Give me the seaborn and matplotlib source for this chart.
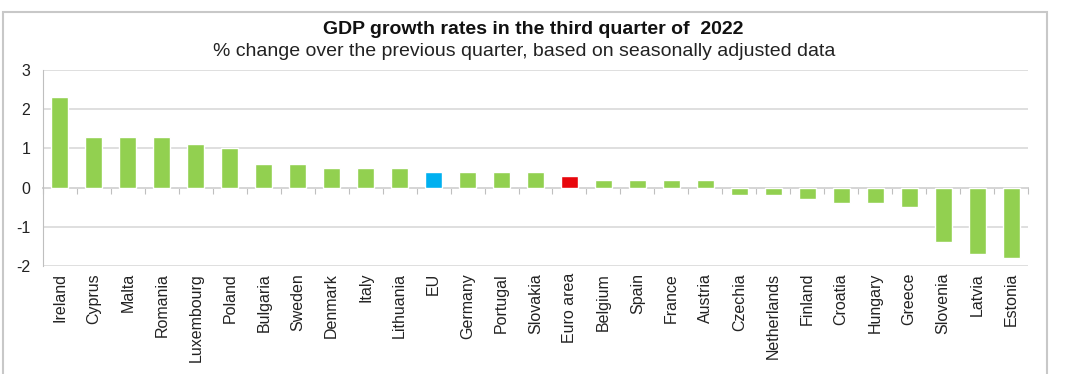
import matplotlib
matplotlib.use("Agg")
import matplotlib.pyplot as plt
from matplotlib.patches import Rectangle
import numpy as np
import seaborn as sns

countries = ["Ireland", "Cyprus", "Malta", "Romania", "Luxembourg", "Poland", "Bulgaria",
             "Sweden", "Denmark", "Italy", "Lithuania", "EU", "Germany", "Portugal",
             "Slovakia", "Euro area", "Belgium", "Spain", "France", "Austria", "Czechia",
             "Netherlands", "Finland", "Croatia", "Hungary", "Greece", "Slovenia",
             "Latvia", "Estonia"]
growth = [2.3, 1.3, 1.3, 1.3, 1.1, 1.0, 0.6, 0.6, 0.5, 0.5, 0.5, 0.4, 0.4, 0.4,
          0.4, 0.3, 0.2, 0.2, 0.2, 0.2, -0.2, -0.2, -0.3, -0.4, -0.4, -0.5, -1.4,
          -1.7, -1.8]
yticks = [-2, -1, 0, 1, 2, 3]

title = "GDP growth rates in the third quarter of  2022"
subtitle = "% change over the previous quarter, based on seasonally adjusted data"

green, blue, red = "#92D050", "#00B0F0", "#E8060C"
palette = {c: (blue if c == "EU" else red if c == "Euro area" else green) for c in countries}

sns.set_style("white")
plt.rcParams["font.family"] = ["Liberation Sans", "DejaVu Sans"]

fig = plt.figure(figsize=(10.8, 3.74), dpi=100)
ax = fig.add_axes([43 / 1080, 1 - 266 / 374, (1028 - 43) / 1080, (266 - 70) / 374])

sns.barplot(x=countries, y=growth, hue=countries, palette=palette, legend=False,
            width=0.5, ax=ax, saturation=1)

ax.set_ylim(-2, 3)
ax.set_xlim(-0.5, len(countries) - 0.5)
ax.set_yticks(yticks)
ax.set_yticklabels([str(v) for v in yticks], fontsize=11.5, color="#222222")
ax.yaxis.grid(True, color="#d9d9d9", linewidth=1.2)
ax.set_axisbelow(True)
for s in ["top", "right", "bottom"]:
    ax.spines[s].set_visible(False)
ax.spines["left"].set_color("#bfbfbf")
ax.tick_params(axis="y", length=4, color="#bfbfbf", pad=5)
ax.tick_params(axis="x", length=0, pad=5)
ax.set_xticks(range(len(countries)))
ax.set_xticklabels(countries, rotation=90, fontsize=11.5, color="#222222")

# zero line with category boundary ticks
zero = ax.secondary_xaxis(2 / 5)
zero.set_xticks(np.arange(len(countries) + 1) - 0.5)
zero.set_xticklabels([])
zero.spines["bottom"].set_color("#bfbfbf")
zero.spines["bottom"].set_linewidth(1.2)
zero.tick_params(direction="out", length=4, color="#bfbfbf")

fig.text(533 / 1080, 1 - 30 / 374, title, ha="center", va="center",
         fontsize=14, fontweight="bold", color="#111111")
fig.text(524 / 1080, 1 - 51 / 374, subtitle, ha="center", va="center",
         fontsize=14, color="#222222")

fig.patches.append(Rectangle((3 / 1080, -0.01), 1044 / 1080, 1 - 12 / 374 + 0.01,
                             transform=fig.transFigure, fill=False,
                             edgecolor="#c8c8c8", linewidth=1.5))

fig.savefig("out.png", dpi=100, facecolor="white")
